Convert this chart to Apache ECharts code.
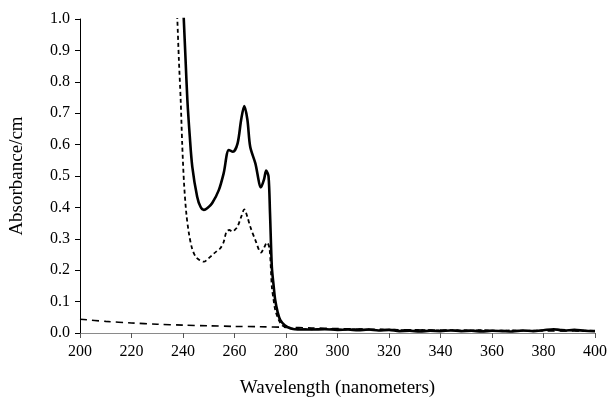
<!DOCTYPE html>
<html>
<head>
<meta charset="utf-8">
<style>
  html, body { margin: 0; padding: 0; background: #fff; }
  #chart { width: 610px; height: 403px; }
</style>
<script src="https://cdn.jsdelivr.net/npm/echarts@6/dist/echarts.min.js"></script>
</head>
<body>
<div id="chart"></div>
<script>
// Absorbance spectra, 200-400 nm

// Sample spectrum (solid line)
const solidWl  = [239.9, 240.3, 241.0, 241.7, 242.6, 243.6, 245.5, 246.8, 248.1, 249.5, 251.3, 253.9, 255.8, 257.8, 259.4, 261.2, 262.6, 263.8, 265.0, 266.1, 268.1, 270.3, 271.5, 272.3, 273.2, 273.8, 274.5, 275.2, 275.8, 276.8, 277.8, 279.5, 281.6, 283.5, 285.5, 290, 295, 300, 304, 308, 312, 316, 320, 324, 328, 332, 336, 340, 344, 348, 352, 356, 360, 364, 368, 372, 376, 380, 384, 388, 392, 396, 400];
const solidAbs = [1.08, 1.0, 0.87, 0.742, 0.63, 0.53, 0.434, 0.402, 0.392, 0.398, 0.413, 0.455, 0.509, 0.583, 0.577, 0.604, 0.68, 0.723, 0.68, 0.593, 0.54, 0.464, 0.49, 0.517, 0.50, 0.38, 0.211, 0.15, 0.105, 0.065, 0.041, 0.025, 0.015, 0.012, 0.011, 0.011, 0.012, 0.010, 0.011, 0.009, 0.011, 0.008, 0.010, 0.006, 0.007, 0.005, 0.007, 0.006, 0.008, 0.006, 0.007, 0.005, 0.007, 0.006, 0.005, 0.008, 0.006, 0.009, 0.012, 0.008, 0.010, 0.007, 0.006];

// Diluted sample (short dashes)
const dashWl  = [237.4, 237.8, 238.4, 239.1, 239.7, 240.4, 241.3, 242.3, 243.5, 244.9, 246.5, 248.1, 249.7, 251.3, 253.0, 254.5, 255.8, 256.9, 258.0, 259.1, 260.3, 261.2, 262.6, 263.8, 265.0, 266.1, 268.1, 270.3, 271.5, 272.6, 273.6, 274.5, 275.1, 275.8, 277.0, 278.4, 280, 282, 285, 290, 296, 302, 308, 314, 320, 326, 332, 338, 344, 350, 356, 362, 368, 374, 380, 386, 392, 400];
const dashAbs = [1.08, 1.0, 0.87, 0.742, 0.6, 0.477, 0.38, 0.317, 0.27, 0.243, 0.232, 0.227, 0.236, 0.248, 0.26, 0.27, 0.29, 0.323, 0.328, 0.323, 0.33, 0.339, 0.37, 0.394, 0.37, 0.339, 0.296, 0.256, 0.272, 0.288, 0.27, 0.147, 0.11, 0.074, 0.045, 0.025, 0.018, 0.015, 0.013, 0.012, 0.013, 0.011, 0.012, 0.010, 0.011, 0.009, 0.010, 0.008, 0.009, 0.008, 0.009, 0.007, 0.008, 0.007, 0.009, 0.011, 0.008, 0.007];

// Blank / solvent baseline (long dashes)
const baseWl  = [200, 210, 220, 230, 240, 250, 260, 270, 280, 290, 300, 320, 340, 360, 380, 400];
const baseAbs = [0.044, 0.037, 0.032, 0.028, 0.025, 0.023, 0.021, 0.020, 0.018, 0.016, 0.014, 0.011, 0.009, 0.008, 0.007, 0.006];

// Axis ticks
const xTicks = { min: 200, max: 400, step: 20 };
const yTicks = { min: 0, max: 1.0, step: 0.1 };

const pairs = (xs, ys) => xs.map((x, i) => [x, ys[i]]);
const FONT = '"Liberation Serif", "Times New Roman", serif';

const chart = echarts.init(document.getElementById('chart'), null, { renderer: 'canvas' });
chart.setOption({
  animation: false,
  backgroundColor: '#ffffff',
  grid: { left: 79, right: 14, top: 19, bottom: 70, containLabel: false },
  xAxis: {
    type: 'value',
    min: xTicks.min, max: xTicks.max, interval: xTicks.step,
    name: 'Wavelength (nanometers)',
    nameLocation: 'middle', nameGap: 46,
    nameTextStyle: { fontFamily: FONT, fontSize: 19, color: '#000' },
    axisLine: { onZero: false, lineStyle: { color: '#8a8a8a', width: 1 } },
    axisTick: { show: true, inside: false, length: 5, lineStyle: { color: '#555' } },
    axisLabel: { fontFamily: FONT, fontSize: 16, color: '#000', margin: 11 },
    splitLine: { show: false }
  },
  yAxis: {
    type: 'value',
    min: yTicks.min, max: yTicks.max, interval: yTicks.step,
    name: 'Absorbance/cm',
    nameLocation: 'middle', nameGap: 53, nameRotate: 90,
    nameTextStyle: { fontFamily: FONT, fontSize: 19, color: '#000' },
    axisLine: { show: true, lineStyle: { color: '#000', width: 1 } },
    axisTick: { show: true, inside: false, length: 5, lineStyle: { color: '#000' } },
    axisLabel: { fontFamily: FONT, fontSize: 16, color: '#000', margin: 10,
                 formatter: v => v.toFixed(1) },
    splitLine: { show: false }
  },
  series: [
    {
      name: 'baseline', type: 'line', data: pairs(baseWl, baseAbs),
      showSymbol: false, smooth: 0.3, clip: true,
      lineStyle: { color: '#000', width: 1.6, type: [7, 5] }
    },
    {
      name: 'diluted', type: 'line', data: pairs(dashWl, dashAbs),
      showSymbol: false, smooth: 0.3, clip: true,
      lineStyle: { color: '#000', width: 1.8, type: [4, 3] }
    },
    {
      name: 'sample', type: 'line', data: pairs(solidWl, solidAbs),
      showSymbol: false, smooth: 0.3, clip: true,
      lineStyle: { color: '#000', width: 2.6, type: 'solid' }
    }
  ]
});
</script>
</body>
</html>
